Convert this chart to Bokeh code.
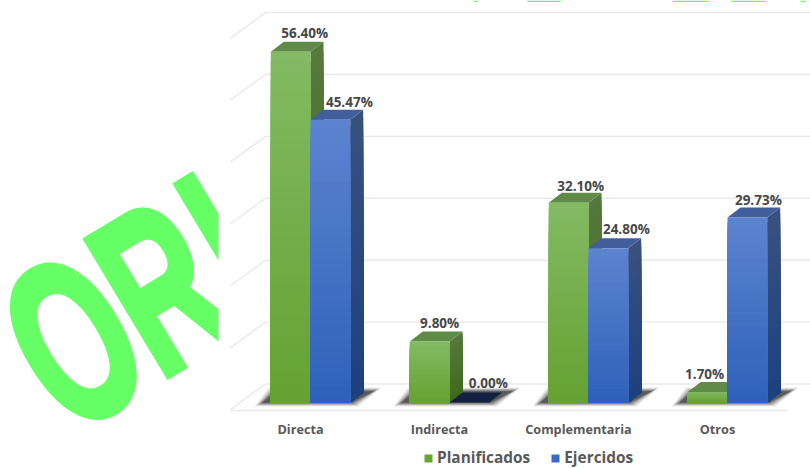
from bokeh.plotting import figure
from bokeh.document import Document
from bokeh.embed import file_html
from bokeh.resources import INLINE
from bokeh.core.properties import value
from bokeh.models import Range1d, FixedTicker, Legend, LegendItem, CustomJS

categories = ["Directa", "Indirecta", "Complementaria", "Otros"]
planificados = [56.40, 9.80, 32.10, 1.70]
ejercidos = [45.47, 0.00, 24.80, 29.73]
grid_values = [0, 10, 20, 30, 40, 50, 60]

# reference-pixel geometry
W, H = 810, 468
FX0, FX1, FY0, FY1 = 0, 810, 0, 468
CX0, CSTEP = 310.0, 139.0
Y0, YSCALE = 402.0, 6.22
BAR_W = 39.7
DX, DY = 13.0, 10.0

def ux(px):
    return px / CSTEP
def uy(px):
    return px / YSCALE

p = figure(width=W, height=H, output_backend="svg", toolbar_location=None,
           x_range=Range1d((FX0 - CX0) / CSTEP, (FX1 - CX0) / CSTEP),
           y_range=Range1d((Y0 - FY1) / YSCALE, (Y0 - FY0) / YSCALE),
           min_border_left=0, min_border_right=0, min_border_top=0, min_border_bottom=0,
           frame_width=W, frame_height=H, outline_line_color=None,
           background_fill_color="white", border_fill_color="white", y_axis_location=None)
p.grid.visible = False
p.extra_x_ranges["px"] = Range1d(FX0, FX1)
p.extra_y_ranges["px"] = Range1d(FY1, FY0)
PX = dict(x_range_name="px", y_range_name="px")

# watermark
GREEN = "#66FF66"
wm_letters = ["O", "R", "I"]
wm_x = [27, 118, 208]
wm_y = [368, 312, 257]
p.text(wm_x, wm_y, text=wm_letters, angle=31, angle_units="deg", text_color=GREEN,
       text_font=value("Liberation Sans"), text_font_style="bold",
       text_font_size="230px", text_align="left", text_baseline="alphabetic", **PX)
p.quad(left=[218], right=[FX1], top=[3], bottom=[FY1], fill_color="white", line_color=None, **PX)
tip_l = [473, 527, 672, 731, 800]
tip_r = [477, 560, 708, 765, 805]
p.quad(left=tip_l, right=tip_r, top=[0] * 5, bottom=[1.5] * 5, fill_color=GREEN, line_color=None, **PX)

# condense the watermark letters (real text, narrowed the way the reference's are)
condense = CustomJS(code="""
function walk(root, out) {
  root.querySelectorAll('*').forEach(e => {
    if (e.tagName === 'text' && (e.getAttribute('font-size') === '230px' || /230px/.test(e.getAttribute('style') || ''))) out.push(e);
    if (e.shadowRoot) walk(e.shadowRoot, out);
  });
  return out;
}
function run() {
  walk(document, []).forEach(t => {
    if (t.dataset && t.dataset.cond) return;
    const x = t.getAttribute('x') || 0, y = t.getAttribute('y') || 0;
    const m = t.getAttribute('transform') || '';
    t.setAttribute('transform', m + ` translate(${x},${y}) scale(0.6,1) translate(${-x},${-y})`);
    t.style.stroke = '#66FF66';
    t.style.strokeWidth = '7px';
    t.dataset.cond = '1';
  });
}
run(); setTimeout(run, 50); setTimeout(run, 300); setTimeout(run, 1000);
""")

# walls
GRID = "#e9e9e9"
wall_y = [383.5 - 6.19 * v for v in grid_values]
p.segment([265] * 7, wall_y, [FX1 + 2] * 7, wall_y, line_color=GRID, line_width=1.4, **PX)
p.segment([265] * 7, wall_y, [230] * 7, [y + 25.5 for y in wall_y], line_color=GRID, line_width=1.4, **PX)
p.segment([230], [410], [787], [410], line_color=GRID, line_width=1.6, **PX)

# floor shadows
def shadows(i):
    out = []
    for grow, alpha in ((6, .08), (4.5, .12), (3, .16), (1.5, .22), (0, .3), (-1.5, .4)):
        xs = [i + ux(-50 - grow), i + ux(-36 - grow), i + ux(65 + grow), i + ux(42 + grow)]
        ys = [uy(-1 - grow / 2), uy(12 + grow / 2), uy(12 + grow / 2), uy(-1 - grow / 2)]
        out.append((xs, ys, alpha))
    return out
for i in range(len(categories)):
    for xs, ys, a in shadows(i):
        p.patch(xs, ys, fill_color="#2a2a2a", fill_alpha=a, line_color=None)

def lerp(a, b, t):
    ca = [int(a[j:j + 2], 16) for j in (1, 3, 5)]
    cb = [int(b[j:j + 2], 16) for j in (1, 3, 5)]
    return "#%02x%02x%02x" % tuple(round(x + (y - x) * t) for x, y in zip(ca, cb))

def bars(vals, sign, front, side, top_c, zero_c=None):
    N = 36
    for i, v in enumerate(vals):
        l = i + (ux(-BAR_W) if sign < 0 else 0)
        r = l + ux(BAR_W)
        if v > 0:
            for k in range(N):
                t = k / (N - 1)
                yy = v * (1 - k / N)
                p.patch([r, r + ux(DX), r + ux(DX), r],
                        [yy, yy + uy(DY), uy(DY), 0],
                        fill_color=lerp(side[0], side[1], t), line_color=None)
        p.patch([l, l + ux(DX), r + ux(DX), r], [v, v + uy(DY), v + uy(DY), v],
                fill_color=(zero_c if v == 0 and zero_c else top_c), line_color=None)
        if v > 0:
            for k in range(N):
                t = k / (N - 1)
                p.quad(left=[l], right=[r], top=[v * (1 - k / N)], bottom=[0],
                       fill_color=lerp(front[0], front[1], t), line_color=None)

bars(planificados, -1, ("#83ba63", "#65a232"), ("#56793c", "#3e6a1f"), "#5f8a47")
bars(ejercidos, 1, ("#5c83cf", "#2e62ba"), ("#38517f", "#1e417f"), "#425f9b", "#12213f")

# data labels
lab_x = [i - ux(BAR_W / 2) for i in range(4)] + [i + ux(BAR_W / 2) for i in range(4)]
lab_y = planificados + ejercidos
lab_text = ["%.2f%%" % v for v in planificados + ejercidos]
off_x = [14, 10, 12, -3, 19, 19, 18, 11]
off_y = [-19, -19, -17, -18, -18, -20, -19, -18]
p.text(lab_x, lab_y, text=lab_text, x_offset=off_x, y_offset=off_y, text_color="#484848",
       text_font=value("Open Sans"), text_font_style="bold", text_font_size="13.5px",
       text_align="center", text_baseline="middle")

# category axis, inside the full-height frame
tick_pos = [i - ux(10) for i in range(4)]
p.xaxis.ticker = FixedTicker(ticks=tick_pos)
p.xaxis.major_label_overrides = {t: c for t, c in zip(tick_pos, categories)}
p.xaxis.fixed_location = uy(-2)
p.xaxis.axis_line_color = None
p.xaxis.major_tick_line_color = None
p.xaxis.minor_tick_line_color = None
p.xaxis.major_label_standoff = 9
p.xaxis.major_label_text_font = "Open Sans"
p.xaxis.major_label_text_font_style = "bold"
p.xaxis.major_label_text_font_size = "12.7px"
p.xaxis.major_label_text_color = "#595959"

# legend
r1 = p.quad(left=[-100], right=[-100], top=[-100], bottom=[-100], fill_color="#6aa53a", line_color=None)
r2 = p.quad(left=[-100], right=[-100], top=[-100], bottom=[-100], fill_color="#3a6bc2", line_color=None)
leg = Legend(items=[LegendItem(label="Planificados", renderers=[r1]),
                    LegendItem(label="Ejercidos", renderers=[r2])],
             orientation="horizontal", location=(423, 0), border_line_color=None,
             background_fill_alpha=0, label_text_font="Open Sans", label_text_font_style="bold",
             label_text_font_size="15.4px", label_text_color="#595959",
             glyph_width=10, glyph_height=10, spacing=20, label_standoff=4,
             margin=0, padding=4)
p.add_layout(leg, "center")

doc = Document()
doc.add_root(p)
doc.js_on_event("document_ready", condense)
open("out.html", "w").write(file_html(doc, INLINE))
